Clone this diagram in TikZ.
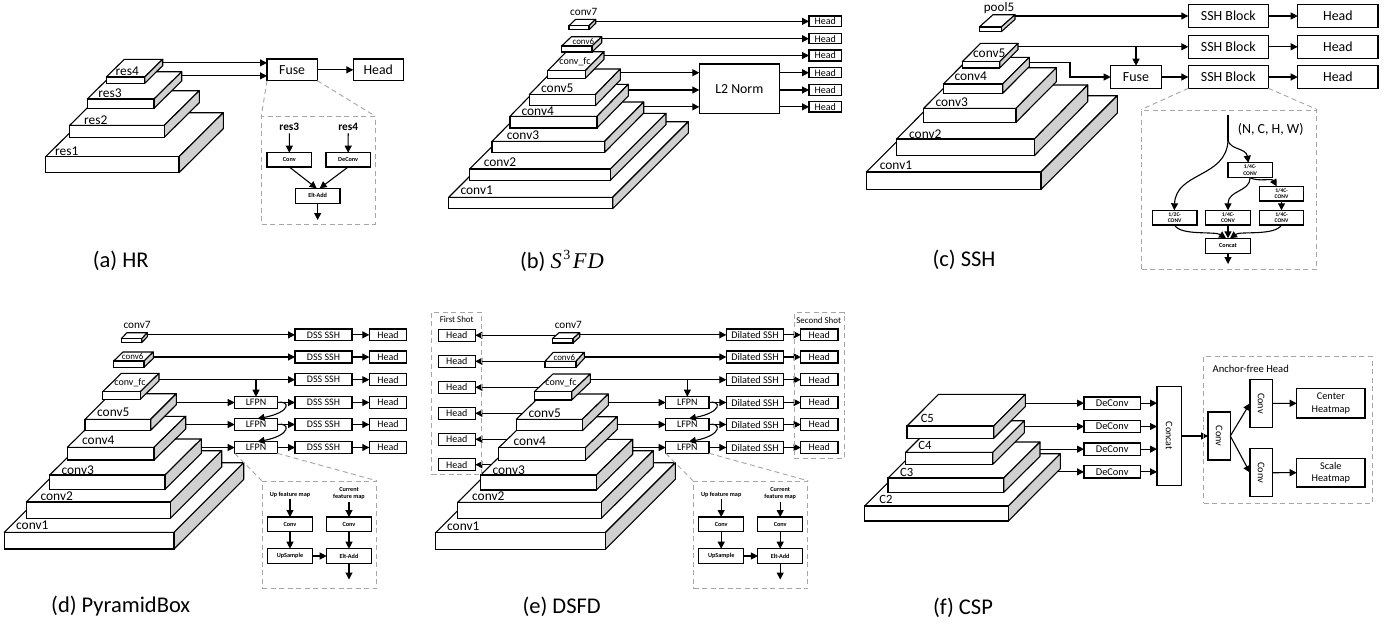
\documentclass[tikz,border=0pt]{standalone}
\usepackage{fontspec}
\usepackage{graphicx}
\setmainfont{Carlito}
\newfontfamily\camb{Liberation Serif}
\usetikzlibrary{arrows.meta}
\definecolor{sidegray}{HTML}{D0D0D0}
\definecolor{dashgray}{HTML}{A6A6A6}
\newcommand{\fs}[1]{\fontsize{#1}{#1}\selectfont\setlength{\baselineskip}{1.2\baselineskip}}
\tikzset{
  bxs/.style={draw=black,fill=white,line width=1.1pt,inner sep=0pt,outer sep=0pt,align=center},
  ft/.style={font=\fs{#1}},
  fb/.style={font=\fs{#1}\bfseries},
  lbl/.style={inner sep=0pt,outer sep=0pt,align=center},
  arr/.style={draw=black,line width=1.1pt,-{Triangle[length=7pt,width=7pt]}},
  dsh/.style={draw=dashgray,line width=.9pt,dash pattern=on 5pt off 3.5pt},
  slabtop/.style={draw=black,fill=white,line width=1.1pt,line join=round},
  slabside/.style={draw=black,fill=sidegray,line width=1.1pt,line join=round},
  slabfront/.style={draw=black,fill=white,line width=1.1pt,inner sep=0pt,outer sep=0pt},
}
% name x1 y1 x2 y2 topright-x topright-y
\newcommand{\slab}[7]{%
  \path[slabtop] (#2,#3) -- ({#2+#6-#4},#7) -- (#6,#7) -- (#4,#3) -- cycle;
  \path[slabside] (#4,#3) -- (#6,#7) -- (#6,{#7+#5-#3}) -- (#4,#5) -- cycle;
  \node[slabfront,minimum width={#4-#2},minimum height={#5-#3}] (#1) at ({(#2+#4)/2},{(#3+#5)/2}) {};
  \coordinate (#1-r) at (#6,#7);
}
% style name x1 y1 x2 y2 text
\newcommand{\bx}[7]{%
  \node[bxs,#1,minimum width={#5-#3},minimum height={#6-#4}] (#2) at ({(#3+#5)/2},{(#4+#6)/2}) {#7};
}
% the LFPN inset: prefix, horizontal shift
\newcommand{\fpn}[2]{%
  \begin{scope}[xshift=#2]
    \bx{fb=6.2}{#1-c1}{267.7}{517}{312.3}{531.7}{Conv}
    \bx{fb=6.2}{#1-c2}{326.7}{517}{371.3}{531.7}{Conv}
    \bx{fb=6.2}{#1-up}{267.7}{548.7}{312.3}{563.3}{UpSample}
    \bx{fb=6.2}{#1-add}{326.7}{548.7}{371.3}{563.3}{Elt-Add}
    \node[lbl,fb=6.2] (#1-lu) at (290,494.5) {Up feature map};
    \node[lbl,fb=6.2] (#1-lc) at (349,493.5) {Current\\feature map};
    \coordinate (#1-out) at (349,579.5);
    \draw[arr] (#1-c1.north |- #1-lu.south) ++(0,2) -- (#1-c1.north);
    \draw[arr] (#1-c2.north |- #1-lc.south) ++(0,2) -- (#1-c2.north);
    \draw[arr] (#1-c1) -- (#1-up);
    \draw[arr] (#1-c2) -- (#1-add);
    \draw[arr] (#1-up) -- (#1-add);
    \draw[arr] (#1-add) -- (#1-out);
    \node[dsh,inner sep=0pt,minimum width=114.4,minimum height=107.4] (#1-box) at (319.5,535) {};
  \end{scope}
}
\begin{document}
\begin{tikzpicture}[x=1pt,y=-1pt]
\useasboundingbox (0,0) rectangle (1396,625);
\fill[white] (0,0) rectangle (1396,625);

%% ---------- (a) HR
\slab{a-r1}{45.7}{156.7}{179}{172.7}{223.3}{112.7}
\node[lbl,ft=13.4] (a-l1) at (66.7,151) {res1};
\slab{a-r2}{69.7}{125.3}{164.3}{137.3}{199.3}{90.7}
\node[lbl,ft=13.4] (a-l2) at (95.7,120) {res2};
\slab{a-r3}{87.3}{99}{154}{108.3}{181.7}{71.7}
\node[lbl,ft=13.4] (a-l3) at (110,93) {res3};
\slab{a-r4}{106.3}{77}{144.7}{83.3}{162.7}{59.3}
\node[lbl,ft=13.4] (a-l4) at (127.3,71) {res4};
\bx{ft=13.8}{a-fuse}{267}{59}{317.3}{80.7}{Fuse}
\bx{ft=13.8}{a-head}{353.3}{59}{403.3}{80.7}{Head}
\draw[arr] ([yshift=7pt]a-fuse.west -| a-r4-r) -- ([yshift=7pt]a-fuse.west);
\draw[arr] ([yshift=-6pt]a-fuse.west -| a-r3-r) -- ([yshift=-6pt]a-fuse.west);
\draw[arr] (a-fuse) -- (a-head);
\node[dsh,inner sep=0pt,minimum width=113.3,minimum height=107.3] (a-dash) at (318.35,170.35) {};
\draw[dsh] (a-fuse.south west) -- (a-dash.north west);
\draw[dsh] (a-fuse.south east) -- (a-dash.north east);
\node[lbl,fb=11.3] (a-ir3) at (289.3,126.7) {res3};
\node[lbl,fb=11.3] (a-ir4) at (348.2,126.7) {res4};
\bx{fb=6.2}{a-iconv}{267}{152.7}{311.7}{167}{Conv}
\bx{fb=6.2}{a-ideconv}{326}{152.7}{370.3}{167}{DeConv}
\bx{fb=6.2}{a-ielt}{295.3}{188.3}{340}{203.3}{Elt-Add}
\coordinate (a-out) at (317.65,220);
\draw[arr] (a-ir3.south) ++(0,3) -- (a-iconv.north);
\draw[arr] (a-ir4.south) ++(0,3) -- (a-ideconv.north);
\draw[arr] (a-iconv.south) -- ([xshift=-1pt]a-ielt.north);
\draw[arr] (a-ideconv.south) -- ([xshift=2pt]a-ielt.north);
\draw[arr] (a-ielt) -- (a-out);
\node[lbl,ft=22.5] (a-cap) at (120.7,261) {(a) HR};

%% ---------- (b) S3FD
\slab{b-c1}{448.7}{197.3}{612.7}{208.7}{688.3}{121.7}
\node[lbl,ft=13.4] (b-l1) at (476.7,190) {conv1};
\slab{b-c2}{469.7}{169}{610.3}{180.3}{666}{113.3}
\node[lbl,ft=13.4] (b-l2) at (500,162) {conv2};
\slab{b-c3}{492}{141.3}{604.7}{152.3}{643.7}{102}
\node[lbl,ft=13.4] (b-l3) at (523,135) {conv3};
\slab{b-c4}{510}{116.3}{597}{128}{628.3}{84.3}
\node[lbl,ft=13.4] (b-l4) at (537.7,111.5) {conv4};
\slab{b-c5}{529.3}{94.7}{595.3}{105.7}{620.3}{69}
\node[lbl,ft=13.4] (b-l5) at (557.3,88.5) {conv5};
\slab{b-fc}{547.7}{70.7}{585.3}{78.3}{604}{51.7}
\node[lbl,ft=10] (b-lfc) at (575,62) {conv\_fc};
\slab{b-c6}{561.7}{46}{592}{52}{601.7}{36.7}
\node[lbl,ft=8.9] (b-l6) at (583.3,41.3) {conv6};
\slab{b-c7}{569}{25.7}{589}{29.7}{595.7}{19.3}
\node[lbl,ft=11.2] (b-l7) at (583.7,11.5) {conv7};
\foreach \i/\ya/\yb in {1/16/26.7,2/33.7/43.7,3/50/61,4/67.7/77.7,5/84.7/95.3,6/101.7/112}{
  \bx{ft=10}{b-h\i}{809}{\ya}{841.7}{\yb}{Head}
}
\bx{ft=13.8}{b-l2n}{699.3}{64}{779.3}{113.3}{L2 Norm}
\draw[arr] (b-h1.west -| b-c7-r) -- (b-h1.west);
\draw[arr] (b-h2.west -| b-c6-r) -- (b-h2.west);
\draw[arr] (b-h3.west -| b-fc-r) -- (b-h3.west);
\draw[arr] (b-h4.west -| b-c5-r) -- (b-h4.west -| b-l2n.west);
\draw[arr] (b-h5.west -| b-c4-r) -- (b-h5.west -| b-l2n.west);
\draw[arr] (b-h6.west -| b-c3-r) -- (b-h6.west -| b-l2n.west);
\draw[arr] (b-h4.west -| b-l2n.east) -- (b-h4.west);
\draw[arr] (b-h5.west -| b-l2n.east) -- (b-h5.west);
\draw[arr] (b-h6.west -| b-l2n.east) -- (b-h6.west);
\node[lbl,ft=22.5,anchor=west] (b-cap) at (520,261) {(b) {\camb\itshape S\kern1.5pt\raisebox{.38em}{\fontsize{14}{14}\selectfont\upshape 3}\kern2.5pt F\kern1pt D}};

%% ---------- (c) SSH
\slab{c-c1}{866.3}{172}{1041}{189.3}{1117.3}{95.7}
\node[lbl,ft=13.4] (c-l1) at (896,165) {conv1};
\slab{c-c2}{896.7}{139}{1034.3}{155.7}{1087.7}{85}
\node[lbl,ft=13.4] (c-l2) at (925.3,134) {conv2};
\slab{c-c3}{923.7}{108.3}{1016}{122.3}{1056.3}{67.7}
\node[lbl,ft=13.4] (c-l3) at (951.7,102.5) {conv3};
\slab{c-c4}{943.3}{84}{1002.7}{93.3}{1029.3}{57.3}
\node[lbl,ft=13.4] (c-l4) at (970.7,76.3) {conv4};
\slab{c-c5}{962.3}{61.7}{999.7}{68}{1018}{43.3}
\node[lbl,ft=13.4] (c-l5) at (989.3,53.3) {conv5};
\slab{c-p5}{979.3}{27}{1001.3}{31.7}{1015}{14.7}
\node[lbl,ft=13.1] (c-l6) at (999,8) {pool5};
\foreach \i/\ya/\yb in {1/4.7/27.3,2/35.3/58.3,3/65.7/88.3}{
  \bx{ft=13.9}{c-s\i}{1188.3}{\ya}{1268.3}{\yb}{SSH Block}
  \bx{ft=13.9}{c-h\i}{1297.7}{\ya}{1378}{\yb}{Head}
  \draw[arr] (c-s\i) -- (c-h\i);
}
\bx{ft=13.9}{c-fuse}{1110.7}{65.7}{1161.3}{88.3}{Fuse}
\coordinate (c-j) at (1070,62.3);
\draw[arr] (c-s1.west -| c-p5-r) -- (c-s1.west);
\draw[arr] (c-s2.west -| c-c5-r) -- (c-s2.west);
\draw[arr] (c-s2.west -| c-fuse.north) -- (c-fuse.north);
\draw[arr] (c-j -| c-c4-r) -- (c-j) |- (c-fuse.west);
\draw[arr] (c-fuse) -- (c-s3);
\node[dsh,inner sep=0pt,minimum width=175,minimum height=159] (c-dash) at (1229.2,189.5) {};
\draw[dsh] (c-s3.south west) -- (c-dash.north west);
\draw[dsh] (c-s3.south east) -- (c-dash.north east);
\coordinate (c-top) at (1228,115);
\coordinate (c-br) at (1228,140.7);
\node[lbl,ft=13.9] (c-shape) at (1270.7,129.3) {(N, C, H, W)};
\bx{fb=5.6}{c-q1}{1228}{162.7}{1272.3}{177.7}{1/4C-\\CONV}
\bx{fb=5.6}{c-q2}{1259.3}{186.3}{1303.7}{201}{1/4C-\\CONV}
\bx{fb=5.6}{c-b1}{1152.3}{210.3}{1197}{225}{1/2C-\\CONV}
\bx{fb=5.6}{c-b2}{1205.7}{210.3}{1250.3}{225}{1/4C-\\CONV}
\bx{fb=5.6}{c-b3}{1259.3}{210.3}{1303.7}{225}{1/4C-\\CONV}
\bx{fb=6.2}{c-con}{1205.7}{238.3}{1250.3}{253.3}{Concat}
\coordinate (c-out) at (1228,264);
\draw[line width=1.1pt] (c-top) -- (c-br);
\draw[arr] (c-br) .. controls (1231,150) and (1246,148) .. ([xshift=-1.8pt]c-q1.north);
\draw[arr] (c-br) .. controls (1226,178) and (1176,171.7) .. ([xshift=-.4pt]c-b1.north);
\draw[arr] (c-q1.south) .. controls (1250,192) and (1228,190) .. (c-b2.north);
\draw[arr] (c-q1.south) .. controls (1258,182) and (1272,178) .. ([xshift=-4.8pt]c-q2.north);
\draw[arr] (c-q2) -- (c-b3);
\draw[arr] (c-b1.south) .. controls (1180,236) and (1215,231) .. ([xshift=-2pt]c-con.north);
\draw[arr] (c-b2) -- (c-con);
\draw[arr] (c-b3.south) .. controls (1275,236) and (1240,231) .. ([xshift=2pt]c-con.north);
\draw[arr] (c-con) -- (c-out);
\node[lbl,ft=22.5] (c-cap) at (964,260) {(c) SSH};

%% ---------- (d) PyramidBox
\slab{d-c1}{4.3}{532.3}{174}{549}{243.7}{462.7}
\node[lbl,ft=13.4] (d-l1) at (32.3,525) {conv1};
\slab{d-c2}{26.3}{502}{170.3}{518.3}{221.7}{450.7}
\node[lbl,ft=13.4] (d-l2) at (56.7,496) {conv2};
\slab{d-c3}{49.7}{475}{165}{489.3}{201.3}{439}
\node[lbl,ft=13.4] (d-l3) at (77.7,470) {conv3};
\slab{d-c4}{67.3}{447.3}{154}{460}{185.7}{416.3}
\node[lbl,ft=13.4] (d-l4) at (98.3,440) {conv4};
\slab{d-c5}{85}{419.3}{150.7}{430.3}{176.3}{393.7}
\node[lbl,ft=13.4] (d-l5) at (113.3,412) {conv5};
\slab{d-fc}{102.7}{391.7}{140.3}{399.3}{159}{373.3}
\node[lbl,ft=10] (d-lfc) at (130,383) {conv\_fc};
\slab{d-c6}{113.7}{361}{144}{367.3}{153.3}{352}
\node[lbl,ft=8.9] (d-l6) at (132.7,356.7) {conv6};
\slab{d-c7}{121.3}{338.7}{141.7}{342.7}{147.3}{332.7}
\node[lbl,ft=11.2] (d-l7) at (137,324.7) {conv7};
\foreach \i/\ya/\yb in {1/329/340.7,2/351/363,3/373.7/385.7,4/396.7/408.3,5/418.7/430.3,6/441.7/453.3}{
  \bx{ft=10}{d-s\i}{295}{\ya}{352}{\yb}{DSS SSH}
  \bx{ft=10}{d-h\i}{369.3}{\ya}{406.7}{\yb}{Head}
  \draw[arr] (d-s\i) -- (d-h\i);
}
\foreach \i/\ya/\yb in {1/396.7/408.3,2/418.7/430.3,3/441.7/453.3}{
  \bx{ft=10}{d-f\i}{234.7}{\ya}{277.3}{\yb}{LFPN}
}
\draw[arr] (d-f1) -- (d-s4);
\draw[arr] (d-f2) -- (d-s5);
\draw[arr] (d-f3) -- (d-s6);
\draw[arr] (d-s1.west -| d-c7-r) -- (d-s1.west);
\draw[arr] (d-s2.west -| d-c6-r) -- (d-s2.west);
\draw[arr] (d-s3.west -| d-fc-r) -- (d-s3.west);
\draw[arr] (d-s3.west -| d-f1.north) -- (d-f1.north);
\draw[arr] (d-f1.west -| d-c5-r) -- (d-f1.west);
\draw[arr] (d-f2.west -| d-c4-r) -- (d-f2.west);
\draw[arr] (d-f3.west -| d-c3-r) -- (d-f3.west);
\draw[arr] (d-f1.east) .. controls (290,400) and (292,412) .. ([xshift=1.5pt]d-f2.north);
\draw[arr] (d-f2.east) .. controls (290,422) and (292,435) .. ([xshift=1.5pt]d-f3.north);
\fpn{d-i}{0pt}
\draw[dsh] (d-f3.south west) -- (d-i-box.north west);
\draw[dsh] (d-f3.south east) -- (d-i-box.north east);
\node[lbl,ft=22.5] (d-cap) at (120.7,606.5) {(d) PyramidBox};

%% ---------- (e) DSFD
\foreach \i/\ya/\yb in {1/329.3/341.3,2/355.3/367.3,3/381.3/393.3,4/407.3/419.3,5/433.3/445.3,6/458.7/470.7}{
  \bx{ft=10}{e-a\i}{438.3}{\ya}{475.3}{\yb}{Head}
}
\coordinate (e-x7) at (565,335);
\coordinate (e-x6) at (560,361);
\coordinate (e-xf) at (553,387);
\coordinate (e-x5) at (549,413);
\coordinate (e-x4) at (540,439);
\coordinate (e-x3) at (538,465);
\draw[arr] (e-x7 |- e-a1.east) -- (e-a1.east);
\draw[arr] (e-x6 |- e-a2.east) -- (e-a2.east);
\draw[arr] (e-xf |- e-a3.east) -- (e-a3.east);
\draw[arr] (e-x5 |- e-a4.east) -- (e-a4.east);
\draw[arr] (e-x4 |- e-a5.east) -- (e-a5.east);
\draw[arr] (e-x3 |- e-a6.east) -- (e-a6.east);
\slab{e-c1}{435.7}{532.7}{605.3}{549.3}{675.3}{462.7}
\node[lbl,ft=13.4] (e-l1) at (463.3,526) {conv1};
\slab{e-c2}{457.7}{502.3}{601.3}{518.3}{653.3}{450.7}
\node[lbl,ft=13.4] (e-l2) at (488.3,496) {conv2};
\slab{e-c3}{480.7}{475}{596.3}{490}{632.7}{439.3}
\node[lbl,ft=13.4] (e-l3) at (508.7,470) {conv3};
\slab{e-c4}{498.7}{447.7}{585.3}{460.3}{617.3}{416.7}
\node[lbl,ft=13.4] (e-l4) at (529.7,441) {conv4};
\slab{e-c5}{516.3}{419.3}{582.3}{430.7}{608.3}{394}
\node[lbl,ft=13.4] (e-l5) at (544.7,413) {conv5};
\slab{e-fc}{534.3}{391.7}{571.7}{400}{590.3}{374}
\node[lbl,ft=10] (e-lfc) at (561,383) {conv\_fc};
\slab{e-c6}{545}{361.3}{576}{367.3}{584.3}{352.3}
\node[lbl,ft=8.9] (e-l6) at (564.3,357.3) {conv6};
\slab{e-c7}{552.3}{338.7}{573}{343}{579.7}{332.7}
\node[lbl,ft=11.2] (e-l7) at (568.3,324.7) {conv7};
\foreach \i/\ya/\yb in {1/329/340.7,2/351/363,3/373.7/385.7,4/396.7/408.3,5/418.7/430.3,6/441.7/453.3}{
  \bx{ft=10.2}{e-s\i}{726.3}{\ya}{783.7}{\yb}{Dilated SSH}
  \bx{ft=10}{e-h\i}{800.7}{\ya}{838}{\yb}{Head}
  \draw[arr] (e-s\i) -- (e-h\i);
}
\foreach \i/\ya/\yb in {1/396.7/408.3,2/418.7/430.3,3/441.7/453.3}{
  \bx{ft=10}{e-f\i}{665.7}{\ya}{709}{\yb}{LFPN}
}
\draw[arr] (e-f1) -- (e-s4);
\draw[arr] (e-f2) -- (e-s5);
\draw[arr] (e-f3) -- (e-s6);
\draw[arr] (e-s1.west -| e-c7-r) -- (e-s1.west);
\draw[arr] (e-s2.west -| e-c6-r) -- (e-s2.west);
\draw[arr] (e-s3.west -| e-fc-r) -- (e-s3.west);
\draw[arr] (e-s3.west -| e-f1.north) -- (e-f1.north);
\draw[arr] (e-f1.west -| e-c5-r) -- (e-f1.west);
\draw[arr] (e-f2.west -| e-c4-r) -- (e-f2.west);
\draw[arr] (e-f3.west -| e-c3-r) -- (e-f3.west);
\draw[arr] (e-f1.east) .. controls (721,400) and (723,412) .. ([xshift=1.5pt]e-f2.north);
\draw[arr] (e-f2.east) .. controls (721,422) and (723,435) .. ([xshift=1.5pt]e-f3.north);
\fpn{e-i}{431.2pt}
\draw[dsh] (e-f3.south west) -- (e-i-box.north west);
\draw[dsh] (e-f3.south east) -- (e-i-box.north east);
\node[dsh,inner sep=0pt,minimum width=50,minimum height=162.7] (e-first) at (456.7,393.35) {};
\node[lbl,ft=8.9] (e-lfirst) at (456.7,319.3) {First Shot};
\node[dsh,inner sep=0pt,minimum width=50,minimum height=145.6] (e-second) at (819.3,385.5) {};
\node[lbl,ft=8.9] (e-lsecond) at (818.7,320) {Second Shot};
\node[lbl,ft=22.5] (e-cap) at (561.7,606.5) {(e) DSFD};

%% ---------- (f) CSP
\slab{f-c2}{864.7}{506}{1008.3}{521}{1060.3}{453.7}
\node[lbl,ft=12.6] (f-l2) at (886,499) {C2};
\slab{f-c3}{888}{478}{1003.7}{492.3}{1040}{442}
\node[lbl,ft=12.6] (f-l3) at (906.7,472.7) {C3};
\slab{f-c4}{905.7}{452.3}{992.7}{464.3}{1024.3}{420.7}
\node[lbl,ft=12.6] (f-l4) at (925,445.7) {C4};
\slab{f-c5}{907}{426}{993.7}{438.3}{1025.3}{394.3}
\node[lbl,ft=12.6] (f-l5) at (927.3,418) {C5};
\foreach \i/\ya/\yb in {1/397/409.3,2/420.3/432.7,3/443/455.3,4/465.7/478}{
  \bx{ft=10.4}{f-d\i}{1084}{\ya}{1140.3}{\yb}{DeConv}
}
\bx{ft=10}{f-cat}{1157}{386.7}{1181.3}{485.3}{\rotatebox{-90}{Concat}}
\bx{ft=10.2}{f-conv}{1208}{412}{1230.3}{460}{\rotatebox{-90}{Conv}}
\bx{ft=10.2}{f-convt}{1250}{379.3}{1272.3}{427.3}{\rotatebox{-90}{Conv}}
\bx{ft=10.2}{f-convb}{1250}{448.7}{1272.3}{496.7}{\rotatebox{-90}{Conv}}
\bx{ft=10.3}{f-center}{1296.7}{388.7}{1365}{418}{Center\\Heatmap}
\bx{ft=10.3}{f-scale}{1296.7}{458.3}{1365}{487}{Scale\\Heatmap}
\draw[arr] (f-d1.west -| f-c5-r) -- (f-d1.west);
\draw[arr] (f-d2.west -| f-c4-r) -- (f-d2.west);
\draw[arr] (f-d3.west -| f-c3-r) -- (f-d3.west);
\draw[arr] ([xshift=-3pt]f-d4.west -| f-c2-r) -- (f-d4.west);
\foreach \i in {1,2,3,4}{ \draw[arr] (f-d\i.east) -- (f-d\i.east -| f-cat.west); }
\draw[arr] (f-cat) -- (f-conv);
\draw[arr] (f-conv.east) -- (f-convt.west);
\draw[arr] (f-conv.east) -- (f-convb.west);
\draw[arr] (f-convt) -- (f-center);
\draw[arr] (f-convb) -- (f-scale);
\node[dsh,inner sep=0pt,minimum width=168.3,minimum height=147] (f-dash) at (1287.85,429.8) {};
\node[lbl,ft=10.6,anchor=west] (f-lanchor) at (1212.7,368.7) {Anchor-free Head};
\node[lbl,ft=22.5] (f-cap) at (963,608) {(f) CSP};
\end{tikzpicture}
\end{document}
